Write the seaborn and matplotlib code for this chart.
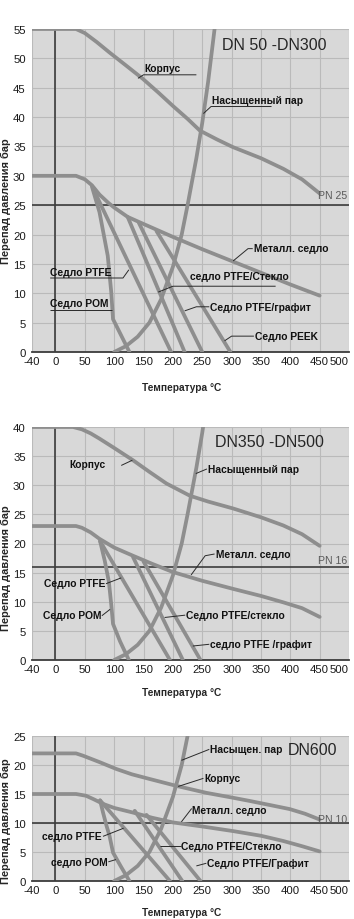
import matplotlib
matplotlib.use("Agg")
import matplotlib.pyplot as plt
from matplotlib import font_manager as fm
import numpy as np
import pandas as pd
import seaborn as sns

# --- data (temperature °C, pressure bar) ---
steam_t = [100, 120, 140, 160, 180, 200, 215, 225, 240, 250, 260, 271]
steam_p = [0, 1.0, 2.6, 5.0, 9.0, 14.5, 20.0, 25.0, 33.0, 39.0, 46.0, 55.0]

# DN50 - DN300
body1_t = [-40, 35, 50, 70, 92, 120, 149, 175, 200, 225, 246, 275, 302, 350, 388, 420, 450]
body1_p = [55, 55, 54.3, 52.8, 51.0, 48.8, 46.5, 44.2, 41.9, 39.7, 37.7, 36.2, 34.9, 33.0, 31.2, 29.4, 27.0]
metal1_t = [-40, 35, 50, 62, 75, 90, 100, 123, 150, 200, 250, 300, 350, 400, 450]
metal1_p = [30, 30, 29.4, 28.4, 26.8, 25.4, 24.6, 23.0, 21.8, 19.6, 17.5, 15.5, 13.5, 11.5, 9.6]
pom1_t = [62, 75, 89, 95, 98, 112, 126]
pom1_p = [28.2, 23.8, 16.4, 10.2, 5.6, 2.8, 0]
ptfe1_t = [68, 197]
ptfe1_p = [27.0, 0]
glass1_t = [123, 220]
glass1_p = [23.0, 0]
graph1_t = [142, 250]
graph1_p = [22.0, 0]
peek1_t = [172, 298]
peek1_p = [20.6, 0]

# DN350 - DN500
body2_t = [-40, 30, 45, 60, 75, 100, 132, 160, 189, 229, 260, 303, 350, 388, 420, 450]
body2_p = [40, 40, 39.6, 38.9, 38.0, 36.4, 34.3, 32.3, 30.3, 28.2, 27.2, 26.0, 24.5, 23.1, 21.6, 19.6]
metal2_t = [-40, 35, 45, 60, 75, 100, 132, 165, 200, 250, 303, 350, 388, 420, 450]
metal2_p = [23, 23, 22.7, 21.9, 20.8, 19.3, 17.9, 16.5, 15.1, 13.6, 12.2, 11.0, 9.9, 8.9, 7.4]
pom2_t = [76, 84, 91, 95, 98, 110, 125]
pom2_p = [20.4, 17.0, 13.4, 9.5, 6.2, 3.2, 0]
ptfe2_t = [76, 195]
ptfe2_p = [20.4, 0]
glass2_t = [132, 217]
glass2_p = [17.7, 0]
graph2_t = [150, 247]
graph2_p = [16.9, 0]

# DN600
body3_t = [-40, 35, 47, 75, 104, 130, 160, 206, 257, 300, 331, 370, 399, 425, 450]
body3_p = [22, 22, 21.6, 20.5, 19.3, 18.4, 17.6, 16.4, 15.2, 14.4, 13.8, 13.0, 12.4, 11.6, 10.6]
metal3_t = [-40, 35, 52, 65, 81, 100, 132, 165, 200, 250, 303, 350, 388, 420, 450]
metal3_p = [15, 15, 14.7, 14.1, 13.3, 12.6, 11.8, 10.9, 10.1, 9.4, 8.6, 7.8, 6.9, 6.0, 5.1]
pom3_t = [76, 81, 87, 92, 98, 112, 126]
pom3_p = [13.9, 11.8, 9.5, 7.8, 4.9, 2.4, 0]
ptfe3_t = [76, 195]
ptfe3_p = [13.9, 0]
glass3_t = [135, 216]
glass3_p = [12.1, 0]
graph3_t = [155, 247]
graph3_p = [11.4, 0]

x_ticks = [-40, 0, 50, 100, 150, 200, 250, 300, 350, 400, 450, 500]
pn_levels = [25, 16, 10]
y_tops = [55, 40, 25]
titles = ["DN 50 -DN300", "DN350 -DN500", "DN600"]

BG = "#d8d8d8"
GRID = "#bababa"
CURVE = "#8e8e8e"
DARK = "#3c3c3c"
LEADER = "#2a2a2a"

sns.set_theme(style="whitegrid")
names = {f.name for f in fm.fontManager.ttflist}
NARROW = "Liberation Sans Narrow" if "Liberation Sans Narrow" in names else "Liberation Sans"
plt.rcParams["font.family"] = [NARROW, "DejaVu Sans"]
plt.rcParams["axes.unicode_minus"] = False
LABEL_KW = dict(fontsize=7.4, fontweight="bold", color="#111111", va="center", zorder=6)


def frame(curves):
    parts = []
    for name, (t, p) in curves.items():
        parts.append(pd.DataFrame({"t": t, "p": p, "curve": name}))
    return pd.concat(parts, ignore_index=True)


def callout(ax, text, xy, path=None, ha="left"):
    if path:
        xs, ys = zip(*path)
        ax.plot(xs, ys, color=LEADER, lw=0.7, zorder=5, solid_capstyle="butt")
    ax.text(xy[0], xy[1], text, ha=ha, **LABEL_KW)


def setup(ax, top, pn, ylab_y, xlab_y):
    ax.set_facecolor(BG)
    ax.set_xlim(-40, 500)
    ax.set_ylim(0, top)
    ax.set_xticks(x_ticks)
    ax.set_yticks(np.arange(0, top + 1, 5))
    ax.grid(True, color=GRID, lw=0.8)
    ax.set_axisbelow(True)
    for s in ["left", "right", "top"]:
        ax.spines[s].set_visible(False)
    ax.spines["bottom"].set_color(DARK)
    ax.spines["bottom"].set_linewidth(1.3)
    ax.tick_params(length=0, labelsize=8.2, colors="#1a1a1a", pad=3)
    ax.tick_params(axis="y", pad=4.5)
    ax.get_xticklabels()[-1].set_ha("right")
    ax.get_xticklabels()[-1].set_x(0)
    ax.axvline(0, color=DARK, lw=1.2, zorder=1.5)
    ax.axhline(pn, color=DARK, lw=1.2, zorder=1.5)
    ax.text(497, pn + top * 0.03, f"PN {pn}", ha="right", va="center",
            fontsize=7.6, color="#5a5a5a", zorder=6)
    ax.set_ylabel("Перепад давления бар", fontsize=7.9, fontweight="bold")
    ax.set_xlabel("Температура °C", fontsize=7.3, fontweight="bold")
    ax.yaxis.set_label_coords(-0.066, ylab_y)
    ax.xaxis.set_label_coords(0.473, xlab_y)


def draw(ax, curves):
    df = frame(curves)
    sns.lineplot(data=df, x="t", y="p", units="curve", estimator=None, sort=False,
                 color=CURVE, lw=2.7, ax=ax, zorder=3)
    for ln in ax.lines:
        ln.set_solid_joinstyle("round")


def title(ax, x, y, text):
    ax.text(x, y, text, fontsize=11.5, family=["Liberation Sans", "DejaVu Sans"],
            va="center", ha="left", zorder=6)


fig = plt.figure(figsize=(3.54, 9.2), dpi=100)
ax1 = fig.add_axes([32 / 354, 1 - 353 / 920, 317 / 354, 323 / 920])
ax2 = fig.add_axes([32 / 354, 1 - 661 / 920, 317 / 354, 233 / 920])
ax3 = fig.add_axes([32 / 354, 1 - 882 / 920, 317 / 354, 145 / 920])

# panel 1
draw(ax1, {"body": (body1_t, body1_p), "steam": (steam_t, steam_p), "metal": (metal1_t, metal1_p),
           "pom": (pom1_t, pom1_p), "ptfe": (ptfe1_t, ptfe1_p), "glass": (glass1_t, glass1_p),
           "graph": (graph1_t, graph1_p), "peek": (peek1_t, peek1_p)})
setup(ax1, y_tops[0], pn_levels[0], 0.47, -0.093)
title(ax1, 284, 52.3, titles[0])
callout(ax1, "Корпус", (152, 48.3), [(140.5, 46.6), (150, 47.2), (240, 47.2)])
callout(ax1, "Насыщенный пар", (267, 42.9), [(252, 40.6), (265, 41.8), (368, 41.8)])
callout(ax1, "Металл. седло", (338, 17.7), [(302.6, 15.5), (328, 17.6), (336, 17.6)])
callout(ax1, "Седло PTFE", (-9, 13.7), [(-9, 12.6), (115, 12.6), (125, 14.0)])
callout(ax1, "Седло POM", (-9, 8.3), [(-9, 7.15), (97, 7.15)])
callout(ax1, "седло PTFE/Стекло", (230, 12.9), [(175, 10.2), (200, 11.2), (375, 11.2)])
callout(ax1, "Седло PTFE/графит", (264, 7.6), [(220, 7.0), (240, 7.7), (262, 7.7)])
callout(ax1, "Седло PEEK", (340, 2.7), [(288, 1.9), (300, 2.7), (338, 2.7)])

# panel 2
draw(ax2, {"body": (body2_t, body2_p), "steam": (steam_t, steam_p), "metal": (metal2_t, metal2_p),
           "pom": (pom2_t, pom2_p), "ptfe": (ptfe2_t, ptfe2_p), "glass": (glass2_t, glass2_p),
           "graph": (graph2_t, graph2_p)})
setup(ax2, y_tops[1], pn_levels[1], 0.40, -0.117)
title(ax2, 271, 37.5, titles[1])
callout(ax2, "Корпус", (24, 33.6), [(112, 33.4), (131, 34.3)])
callout(ax2, "Насыщенный пар", (260, 32.8), [(239, 32.0), (258, 32.8)])
callout(ax2, "Металл. седло", (273, 18.2), [(231, 14.6), (255, 17.9), (271, 18.2)])
callout(ax2, "Седло PTFE", (85, 13.2), [(86, 13.1), (112, 14.1)], ha="right")
callout(ax2, "Седло POM", (78, 7.7), [(79, 7.6), (93, 8.7)], ha="right")
callout(ax2, "Седло PTFE/стекло", (222, 7.7), [(186, 7.3), (221, 7.7)])
callout(ax2, "седло PTFE /графит", (263, 2.7), [(234, 2.4), (262, 2.7)])

# panel 3
draw(ax3, {"body": (body3_t, body3_p), "steam": (steam_t, steam_p), "metal": (metal3_t, metal3_p),
           "pom": (pom3_t, pom3_p), "ptfe": (ptfe3_t, ptfe3_p), "glass": (glass3_t, glass3_p),
           "graph": (graph3_t, graph3_p)})
setup(ax3, y_tops[2], pn_levels[2], 0.42, -0.181)
title(ax3, 395, 22.7, titles[2])
callout(ax3, "Насыщен. пар", (263, 22.7), [(214.5, 20.8), (262, 22.7)])
callout(ax3, "Корпус", (254, 17.7), [(209, 16.3), (252, 17.7)])
callout(ax3, "Металл. седло", (233, 12.3), [(214.5, 10.2), (232, 12.5)])
callout(ax3, "седло PTFE", (79, 7.7), [(81, 7.7), (116, 9.1)], ha="right")
callout(ax3, "Седло PTFE/Стекло", (214, 5.95), [(177.5, 5.95), (213, 5.95)])
callout(ax3, "седло POM", (88, 3.3), [(90, 3.3), (103, 3.7)], ha="right")
callout(ax3, "Седло PTFE/Графит", (258, 3.06), [(240, 2.6), (257, 3.06)])

fig.canvas.draw()
for ax in (ax1, ax2, ax3):
    lab = ax.get_xticklabels()[-1]
    lab.set_ha("right")
fig.savefig("out.png", dpi=100, facecolor="white")
